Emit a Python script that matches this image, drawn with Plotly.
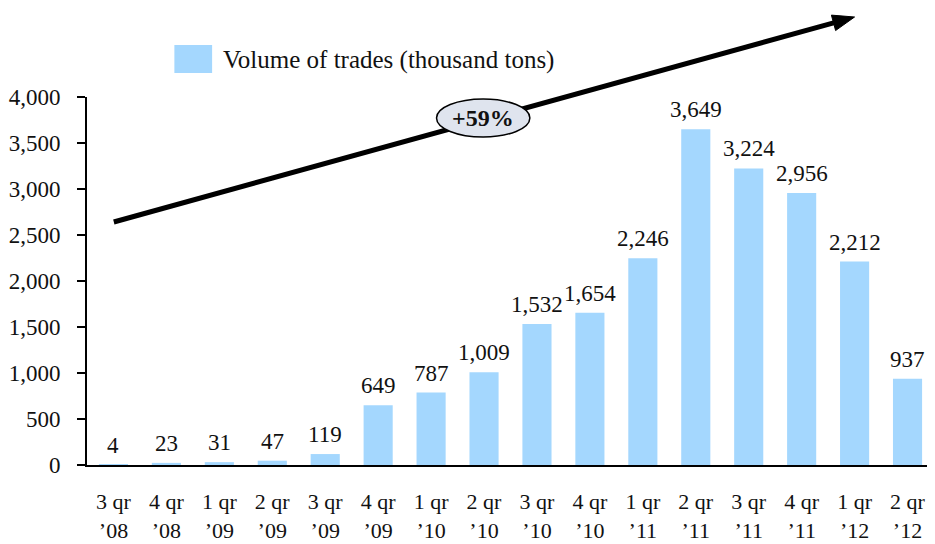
import math
import plotly.graph_objects as go

quarters = ["3 qr<br>’08", "4 qr<br>’08", "1 qr<br>’09", "2 qr<br>’09", "3 qr<br>’09", "4 qr<br>’09",
            "1 qr<br>’10", "2 qr<br>’10", "3 qr<br>’10", "4 qr<br>’10", "1 qr<br>’11", "2 qr<br>’11",
            "3 qr<br>’11", "4 qr<br>’11", "1 qr<br>’12", "2 qr<br>’12"]
volumes = [4, 23, 31, 47, 119, 649, 787, 1009, 1532, 1654, 2246, 3649, 3224, 2956, 2212, 937]
series_name = "Volume of trades (thousand tons)"
growth_label = "+59%"

BAR = "#a4d7fe"
FONT = "Liberation Serif"

# page body has an 8px margin; figure drawn from (8, 8) in the screen
OFF = 8
W, H = 935 - OFF, 544 - OFF
# plot area in screen pixels: x 81..934, y 97..465
L, R, T, B = 81 - OFF, 1, 97 - OFF, 544 - 465
pw, ph = W - L - R, H - T - B


def px(x):  # screen px -> paper
    return (x - 81) / pw


def py(y):  # screen px -> paper
    return (465 - y) / ph


fig = go.Figure()
fig.add_trace(go.Bar(x=quarters, y=volumes, marker_color=BAR, marker_line_width=0,
                     name=series_name, showlegend=False))

annotations = []
for q, v in zip(quarters, volumes):
    annotations.append(dict(x=q, y=v, xref="x", yref="y", text=f"{v:,}", showarrow=False,
                            yanchor="bottom", yshift=5, font=dict(family=FONT, size=23, color="#111")))

# legend (custom)
annotations.append(dict(x=px(216), y=py(60), xref="paper", yref="paper", text=series_name,
                        showarrow=False, xanchor="left", yanchor="middle",
                        font=dict(family=FONT, size=25, color="#111")))
annotations.append(dict(x=px(480), y=py(118), xref="paper", yref="paper", text=f"<b>{growth_label}</b>",
                        showarrow=False, xanchor="center", yanchor="middle",
                        font=dict(family=FONT, size=24, color="#111")))

# arrow geometry (screen pixels)
tx, ty = 108, 222
hx, hy = 854, 17
dx, dy = hx - tx, hy - ty
ln = math.hypot(dx, dy)
ux, uy = dx / ln, dy / ln
nx, ny = -uy, ux
hl, hw = 22, 8
bx, by = hx - hl * ux, hy - hl * uy
c1 = (bx + hw * nx, by + hw * ny)
c2 = (bx - hw * nx, by - hw * ny)

shapes = [
    dict(type="rect", xref="paper", yref="paper", x0=px(169), x1=px(207), y0=py(73), y1=py(45),
         fillcolor=BAR, line_width=0),
    dict(type="line", xref="paper", yref="paper", x0=px(tx), y0=py(ty), x1=px(bx + 2 * ux), y1=py(by + 2 * uy),
         line=dict(color="black", width=5)),
    dict(type="path", xref="paper", yref="paper",
         path=f"M {px(hx)} {py(hy)} L {px(c1[0])} {py(c1[1])} L {px(c2[0])} {py(c2[1])} Z",
         fillcolor="black", line=dict(color="black", width=1)),
    dict(type="circle", xref="paper", yref="paper", x0=px(433), x1=px(527), y0=py(137), y1=py(99),
         fillcolor="#dfe4ee", line=dict(color="black", width=1.5)),
]

fig.update_layout(
    width=W, height=H,
    margin=dict(l=L, r=R, t=T, b=B),
    paper_bgcolor="white", plot_bgcolor="white",
    bargap=0.45,
    font=dict(family=FONT, size=20, color="#111"),
    annotations=annotations,
    shapes=shapes,
)
fig.update_yaxes(range=[0, 4000], dtick=500, tickformat=",", showgrid=False, zeroline=False,
                 showline=True, linecolor="black", linewidth=2, ticks="outside", ticklen=8,
                 tickcolor="black", tickwidth=1.5, ticklabelstandoff=12,
                 tickfont=dict(family=FONT, size=23, color="#111"))
fig.update_xaxes(showgrid=False, showline=True, linecolor="black", linewidth=2, ticks="",
                 ticklabelstandoff=16, tickfont=dict(family=FONT, size=22, color="#111"))

fig.write_html("out.html")
